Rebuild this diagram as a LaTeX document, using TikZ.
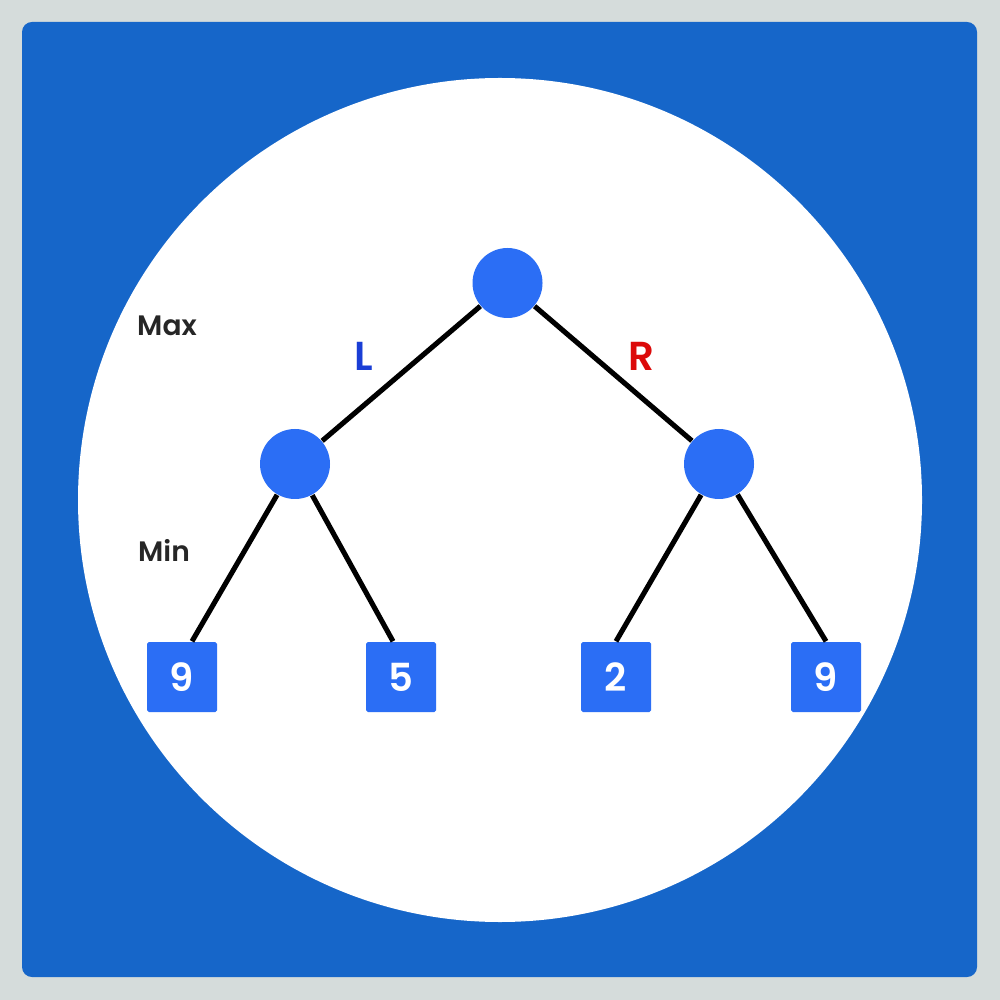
\documentclass[tikz,border=0pt]{standalone}
\usepackage{fontspec}
\setmainfont{Poppins}[BoldFont={Poppins SemiBold}]
\usetikzlibrary{positioning}
\definecolor{frame}{HTML}{D5DCDB}
\definecolor{panel}{HTML}{1666C9}
\definecolor{nodeblue}{HTML}{2B6EF5}
\definecolor{lblue}{HTML}{1A3ED6}
\definecolor{rred}{HTML}{DC0A0A}

\begin{document}
\begin{tikzpicture}[
    player/.style={circle, minimum size=0.70cm, inner sep=0pt, fill=nodeblue},
    leaf/.style={rectangle, rounded corners=0.5pt, minimum size=0.70cm, inner sep=0pt, fill=nodeblue, text=white, font=\fontsize{11}{13}\selectfont\bfseries},
    level/.style={font=\fontsize{8}{10}\selectfont\bfseries, text=black!85},
    side/.style={font=\fontsize{11.5}{13}\selectfont\bfseries},
    edge/.style={line width=1.45pt, black}
]

% background
\fill[frame] (0,0) rectangle (10,-10);
\fill[panel, rounded corners=0.1cm] (0.22,-0.22) rectangle (9.77,-9.77);
\fill[white] (5,-5) circle (4.22);
\useasboundingbox (0,0) rectangle (10,-10);

% tree
\node (root) [player] at (5.075,-2.83) {};
\node (lmin) [player] at (2.95,-4.64) {};
\node (rmin) [player] at (7.19,-4.64) {};

\node (leafa) [leaf] at (1.82,-6.77) {9};
\node (leafb) [leaf] at (4.01,-6.77) {5};
\node (leafc) [leaf] at (6.16,-6.77) {2};
\node (leafd) [leaf] at (8.26,-6.77) {9};

\node (maxlbl) [level] at (1.67,-3.26) {Max};
\node (minlbl) [level] at (1.64,-5.50) {Min};
\node (llbl) [side, text=lblue] at (3.64,-3.56) {L};
\node (rlbl) [side, text=rred] at (6.41,-3.56) {R};

\draw[edge] (root) -- (lmin);
\draw[edge] (root) -- (rmin);
\draw[edge] (lmin) -- ([xshift=0.1cm]leafa.north);
\draw[edge] (lmin) -- ([xshift=-0.08cm]leafb.north);
\draw[edge] (rmin) -- (leafc.north);
\draw[edge] (rmin) -- (leafd.north);

\end{tikzpicture}
\end{document}
